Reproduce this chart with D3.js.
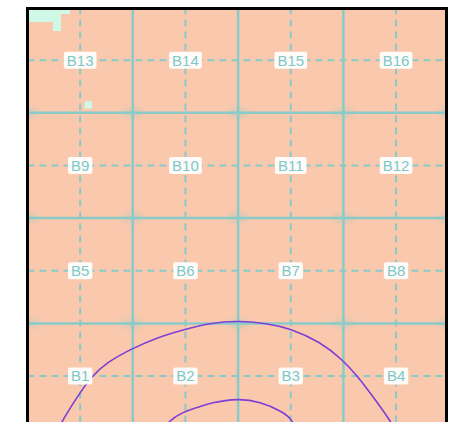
<!DOCTYPE html>
<html><head><meta charset="utf-8">
<script src="https://cdn.jsdelivr.net/npm/d3@7"></script>
<style>html,body{margin:0;padding:0;background:#fff;}svg{display:block;}</style>
</head><body>
<script>
// ---- data (units: grid cells; x from left, y from bottom) ----
const blockLabels = ["B1","B2","B3","B4","B5","B6","B7","B8","B9","B10","B11","B12","B13","B14","B15","B16"];
const nCols = 4, nRows = 4;
const solidTicks = [0, 1, 2, 3, 4];
const dashTicks = [0.5, 1.5, 2.5, 3.5];
// heat-map cells of the low-value (mint) class: [x0, y0, x1, y1]
const mintCells = [
  [0.0, 3.938, 0.404, 4.0],
  [0.0, 3.862, 0.242, 3.938],
  [0.242, 3.777, 0.318, 3.938],
  [0.543, 3.040, 0.613, 3.110]
];
// contour lines
const outerContourX = [0.24, 0.30, 0.40, 0.499, 0.594, 0.752, 0.990, 1.227, 1.477, 1.733, 1.999, 2.272, 2.493, 2.778, 2.996, 3.138, 3.281, 3.443, 3.54];
const outerContourY = [-0.1, 0.02, 0.19, 0.339, 0.48, 0.63, 0.76, 0.865, 0.94, 1.004, 1.026, 1.001, 0.953, 0.826, 0.652, 0.494, 0.304, 0.083, -0.1];
const innerContourX = [1.24, 1.322, 1.477, 1.638, 1.733, 1.999, 2.208, 2.426, 2.521, 2.59];
const innerContourY = [-0.1, 0.064, 0.161, 0.209, 0.244, 0.289, 0.256, 0.161, 0.083, -0.1];

const W = 451, H = 422;
const x = d3.scaleLinear().domain([0, 4]).range([27.5, 448.7]);
const y = d3.scaleLinear().domain([0, 4]).range([428.7, 7.5]);

const svg = d3.select("body").append("svg").attr("width", W).attr("height", H);
const defs = svg.append("defs");
defs.append("clipPath").attr("id", "clip").append("rect")
  .attr("x", 28).attr("y", 9).attr("width", 418).attr("height", 430);
const blur = defs.append("filter").attr("id", "blur").attr("x", "-50%").attr("y", "-50%").attr("width", "200%").attr("height", "200%");
blur.append("feGaussianBlur").attr("stdDeviation", 2.5);

const g = svg.append("g").attr("clip-path", "url(#clip)");
g.append("rect").attr("x", x(0)).attr("y", y(4)).attr("width", x(4) - x(0)).attr("height", y(0) - y(4)).attr("fill", "#FAC8AD");

g.selectAll("rect.mint").data(mintCells).join("rect").attr("class", "mint")
  .attr("x", d => x(d[0])).attr("y", d => y(d[3]))
  .attr("width", d => x(d[2]) - x(d[0])).attr("height", d => y(d[1]) - y(d[3]))
  .attr("fill", "#CFF8E6");

const gridColor = "#88CBC8";
// dashed mid lines
g.selectAll("line.dv").data(dashTicks).join("line")
  .attr("x1", d => x(d)).attr("x2", d => x(d)).attr("y1", y(4)).attr("y2", y(0) + 20)
  .attr("stroke", gridColor).attr("stroke-width", 2).attr("stroke-dasharray", "7,5");
g.selectAll("line.dh").data(dashTicks).join("line")
  .attr("y1", d => y(d)).attr("y2", d => y(d)).attr("x1", x(0)).attr("x2", x(4))
  .attr("stroke", gridColor).attr("stroke-width", 2).attr("stroke-dasharray", "7,5");
// faint blurred marks at solid intersections
const crosses = [];
solidTicks.forEach(a => solidTicks.slice(1, 4).forEach(b => crosses.push([a, b])));
g.selectAll("ellipse.cr").data(crosses).join("ellipse")
  .attr("cx", d => x(d[0])).attr("cy", d => y(d[1])).attr("rx", 11).attr("ry", 5)
  .attr("fill", gridColor).attr("opacity", 0.3).attr("filter", "url(#blur)");
// solid block lines
g.selectAll("line.sv").data(solidTicks).join("line")
  .attr("x1", d => x(d)).attr("x2", d => x(d)).attr("y1", y(4)).attr("y2", y(0) + 20)
  .attr("stroke", gridColor).attr("stroke-width", 2.5);
g.selectAll("line.sh").data(solidTicks).join("line")
  .attr("y1", d => y(d)).attr("y2", d => y(d)).attr("x1", x(0)).attr("x2", x(4))
  .attr("stroke", gridColor).attr("stroke-width", 2.5);

// contours
const line = d3.line().x(d => x(d[0])).y(d => y(d[1])).curve(d3.curveBasis);
[[outerContourX, outerContourY], [innerContourX, innerContourY]].forEach(([xs, ys]) => {
  g.append("path").attr("d", line(xs.map((v, i) => [v, ys[i]])))
    .attr("fill", "none").attr("stroke", "#7E3FD4").attr("stroke-width", 1.6);
});

// block labels
const lab = g.selectAll("g.lab").data(blockLabels).join("g").attr("class", "lab")
  .attr("transform", (d, i) => `translate(${x(i % nCols + 0.5)},${y(Math.floor(i / nCols) + 0.5)})`);
lab.each(function(d) {
  const s = d3.select(this);
  const t = s.append("text").text(d).attr("text-anchor", "middle").attr("dy", "0.36em")
    .attr("font-family", "Liberation Sans, Arial, sans-serif").attr("font-size", 15)
    .attr("fill", "#7CC9C8");
  const w = t.node().getComputedTextLength();
  s.insert("rect", "text").attr("x", -w / 2 - 3).attr("y", -8.5).attr("width", w + 6).attr("height", 17)
    .attr("rx", 2).attr("fill", "#FFFFFF").attr("opacity", 0.92);
});

// frame
svg.append("rect").attr("x", 27.5).attr("y", 8.5).attr("width", 419).attr("height", 440)
  .attr("fill", "none").attr("stroke", "#000").attr("stroke-width", 3);
</script>
</body></html>
